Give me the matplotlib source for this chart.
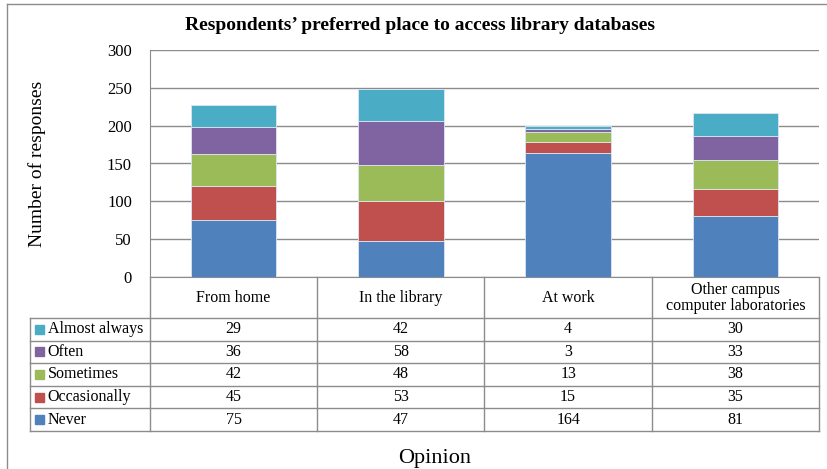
import matplotlib.pyplot as plt
from matplotlib.lines import Line2D
from matplotlib.patches import Rectangle
import numpy as np

plt.rcParams["font.family"] = ["Liberation Serif", "DejaVu Serif"]

# data
places = ["From home", "In the library", "At work", "Other campus\ncomputer laboratories"]
series = ["Never", "Occasionally", "Sometimes", "Often", "Almost always"]
never = [75, 47, 164, 81]
occasionally = [45, 53, 15, 35]
sometimes = [42, 48, 13, 38]
often = [36, 58, 3, 33]
almost_always = [29, 42, 4, 30]
colors = ["#4F81BD", "#C0504D", "#9BBB59", "#8064A2", "#4BACC6"]
yticks = [0, 50, 100, 150, 200, 250, 300]

values = [never, occasionally, sometimes, often, almost_always]

W, H = 828, 469
fig = plt.figure(figsize=(W / 100, H / 100), dpi=100)


def fx(px):
    return px / W


def fy(py):
    return 1 - py / H


# main plot area
ax = fig.add_axes([fx(150), fy(277), fx(819) - fx(150), fy(50) - fy(277)])
x = np.arange(len(places))
bottom = np.zeros(len(places))
for name, vals, c in zip(series, values, colors):
    ax.bar(x, vals, width=0.51, bottom=bottom, color=c, edgecolor="#dce6f2",
           linewidth=0.6, label=name, zorder=3)
    bottom += np.array(vals)

ax.set_xlim(-0.5, len(places) - 0.5)
ax.set_ylim(0, 300)
ax.set_yticks(yticks)
ax.set_xticks([])
ax.tick_params(axis="y", length=0, pad=13, labelsize=12)
ax.yaxis.grid(True, color="#8c8c8c", linewidth=1.0, zorder=0)
for side in ["top", "right"]:
    ax.spines[side].set_visible(False)
for side in ["left", "bottom"]:
    ax.spines[side].set_color("#8c8c8c")
ax.set_ylabel("Number of responses", fontsize=14, labelpad=44)

fig.text(fx(420), fy(25), "Respondents\u2019 preferred place to access library databases",
         ha="center", va="center", fontsize=14, fontweight="bold")
fig.text(fx(435), fy(458), "Opinion", ha="center", va="center", fontsize=16)

# data table below the plot
unit = (819 - 150) / len(places)
left_ext = (150 - 30) / unit
tab = fig.add_axes([fx(30), fy(431), fx(819) - fx(30), fy(277) - fy(431)])
tab.set_xlim(-0.5 - left_ext, len(places) - 0.5)
tab.set_ylim(154, 0)
tab.axis("off")

grey = "#8c8c8c"
header_h = 41
row_h = (154 - header_h) / len(series)
xl = -0.5 - left_ext
xr = len(places) - 0.5

for b in np.arange(len(places) + 1) - 0.5:
    tab.plot([b, b], [0, 154], color=grey, lw=1.0, clip_on=False)
tab.plot([xl, xl], [header_h, 154], color=grey, lw=1.0, clip_on=False)
for i in range(len(series) + 1):
    yy = header_h + i * row_h
    tab.plot([xl, xr], [yy, yy], color=grey, lw=1.0, clip_on=False)

for j, p in enumerate(places):
    tab.text(j, header_h / 2, p, ha="center", va="center", fontsize=11.5,
             linespacing=1.0)

for i, (name, vals, c) in enumerate(zip(series[::-1], values[::-1], colors[::-1])):
    yc = header_h + (i + 0.5) * row_h
    tab.add_patch(Rectangle((xl + 0.03, yc - 4.5), 0.055, 9, color=c, clip_on=False))
    tab.text(xl + 0.105, yc, name, ha="left", va="center", fontsize=11.5)
    for j, v in enumerate(vals):
        tab.text(j, yc, str(v), ha="center", va="center", fontsize=11.5)

# outer chart border (left and top visible)
fig.add_artist(Line2D([fx(7.5), fx(7.5)], [fy(4), 0], color="#8c8c8c", lw=1.0))
fig.add_artist(Line2D([fx(7.5), 1], [fy(4), fy(4)], color="#8c8c8c", lw=1.0))

fig.savefig("out.png", dpi=100)
